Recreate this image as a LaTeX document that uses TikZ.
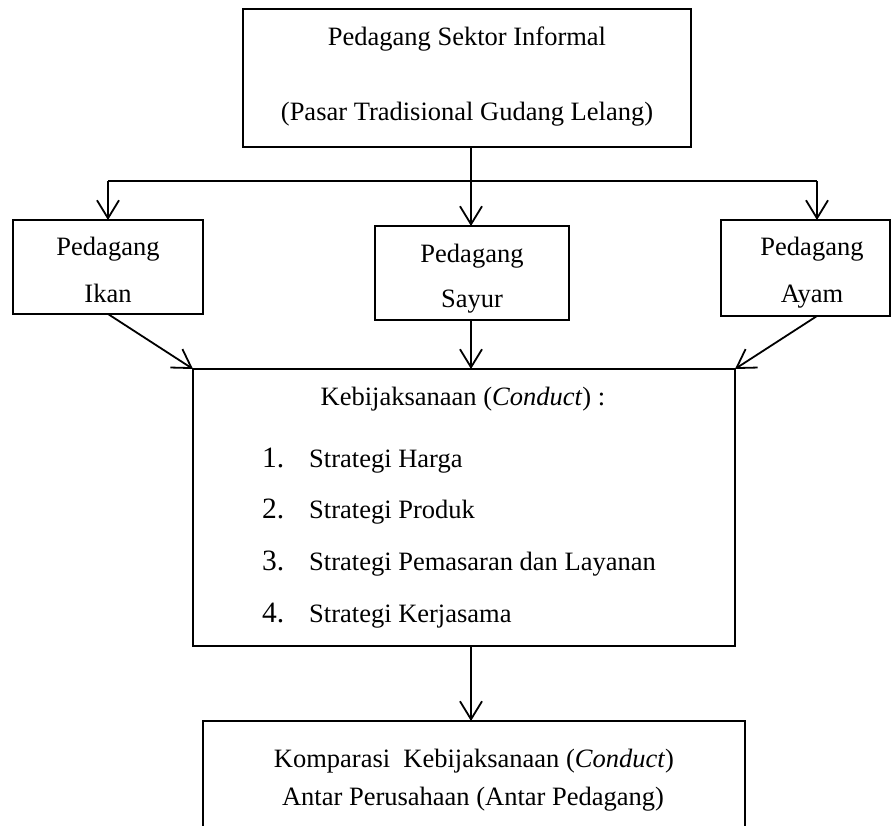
\documentclass[tikz,border=0pt]{standalone}
\usepackage{fontspec}
\setmainfont{Liberation Serif}
\usetikzlibrary{arrows.meta}
\begin{document}
\begin{tikzpicture}[x=1pt,y=-1pt,
  box/.style={draw=black, line width=1.7pt, inner sep=0pt, outer sep=0pt},
  txt/.style={anchor=base, inner sep=0pt, font=\fontsize{26.5}{30}\selectfont},
  num/.style={anchor=base west, inner sep=0pt, font=\fontsize{29.5}{32}\selectfont},
  itm/.style={anchor=base west, inner sep=0pt, font=\fontsize{26.5}{30}\selectfont},
  arr/.style={line width=1.8pt, -{Straight Barb[length=18pt,width=22pt,line width=1.8pt]}},
  ln/.style={line width=1.8pt}]
\clip (0,0) rectangle (891,825);
% boxes
\node[box, minimum width=448pt, minimum height=138pt] (top) at (467,78) {};
\node[box, minimum width=190pt, minimum height=94pt] (ikan) at (108,267) {};
\node[box, minimum width=194pt, minimum height=94pt] (sayur) at (472,273) {};
\node[box, minimum width=169pt, minimum height=96pt] (ayam) at (805.5,268) {};
\node[box, minimum width=542pt, minimum height=277pt] (keb) at (464,507.5) {};
\node[box, minimum width=542pt, minimum height=130pt] (bot) at (474,786) {};
% texts
\node[txt] (t1) at (467,45) {Pedagang Sektor Informal};
\node[txt] (t2) at (467,120) {(Pasar Tradisional Gudang Lelang)};
\node[txt] (i1) at (108,255) {Pedagang};
\node[txt] (i2) at (108,302) {Ikan};
\node[txt] (s1) at (472,262) {Pedagang};
\node[txt] (s2) at (472,307) {Sayur};
\node[txt] (a1) at (812,255) {Pedagang};
\node[txt] (a2) at (812,302) {Ayam};
\node[txt] (kh) at (463,405) {Kebijaksanaan (\textit{Conduct}) :};
\node[num] (n1) at (262,467) {1.};
\node[itm] (k1) at (309,467) {Strategi Harga};
\node[num] (n2) at (262,518) {2.};
\node[itm] (k2) at (309,518) {Strategi Produk};
\node[num] (n3) at (262,570) {3.};
\node[itm] (k3) at (309,570) {Strategi Pemasaran dan Layanan};
\node[num] (n4) at (262,622) {4.};
\node[itm] (k4) at (309,622) {Strategi Kerjasama};
\node[txt] (b1) at (474,767) {Komparasi\ \ Kebijaksanaan (\textit{Conduct})};
\node[txt] (b2) at (473,805) {Antar Perusahaan (Antar Pedagang)};
% connectors
\coordinate (jL) at (108,181);
\coordinate (jM) at (471,181);
\coordinate (jR) at (817,181);
\draw[ln] (top.south -| jM) -- (jM);
\draw[ln] (jL) -- (jR);
\draw[arr] (jL) -- (jL |- ikan.north);
\draw[arr] (jM) -- (jM |- sayur.north);
\draw[arr] (jR) -- (jR |- ayam.north);
\draw[arr] (ikan.south) -- (keb.north west);
\draw[arr] (jM |- sayur.south) -- (jM |- keb.north);
\draw[arr] (ayam.south -| jR) -- (keb.north east);
\draw[arr] (jM |- keb.south) -- (jM |- bot.north);
\end{tikzpicture}
\end{document}
